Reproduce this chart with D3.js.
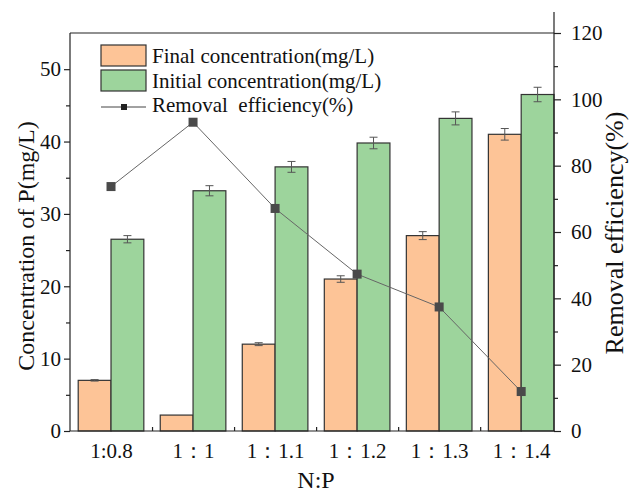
<!DOCTYPE html>
<html>
<head>
<meta charset="utf-8">
<script src="https://cdn.jsdelivr.net/npm/d3@7"></script>
<style>
  body { margin: 0; background: #fff; }
  svg { display: block; }
</style>
</head>
<body>
<div id="chart"></div>
<script>
// data
const ratios = ["1:0.8", "1\uFF1A1", "1\uFF1A1.1", "1\uFF1A1.2", "1\uFF1A1.3", "1\uFF1A1.4"];
const finalConc = [7.0, 2.2, 12.0, 21.0, 27.0, 41.0];
const finalErr = [0.1, 0, 0.2, 0.45, 0.55, 0.8];
const initialConc = [26.5, 33.2, 36.5, 39.8, 43.2, 46.5];
const initialErr = [0.5, 0.7, 0.75, 0.8, 0.9, 1.0];
const removal = [73.7, 93.1, 67.1, 47.3, 37.4, 11.9];
const leftTicks = [0, 10, 20, 30, 40, 50];
const rightTicks = [0, 20, 40, 60, 80, 100, 120];

const W = 634, H = 495;
const m = { top: 33, right: 80, bottom: 64, left: 70 };
const x0 = m.left, x1 = W - m.right, yB = H - m.bottom, yT = m.top;

const orange = "#fdc497", green = "#9dd49c";
const serif = "Liberation Serif";

const svg = d3.select("#chart").append("svg")
  .attr("width", W).attr("height", H);

// categories sit at 1..6
const x = d3.scaleLinear().domain([0.5, 6.4]).range([x0, x1]);
const y = d3.scaleLinear().domain([0, 55]).range([yB, yT]);
const y2 = d3.scaleLinear().domain([0, 120]).range([yB, yT]);
const bw = x(1.4) - x(1);

const idx = d3.range(ratios.length);

// bars
svg.append("g").selectAll("rect.fin")
  .data(idx).enter().append("rect")
  .attr("x", i => x(i + 1) - bw)
  .attr("y", i => y(finalConc[i]))
  .attr("width", bw)
  .attr("height", i => y(0) - y(finalConc[i]))
  .attr("fill", orange)
  .attr("stroke", "#333").attr("stroke-width", 1.2);

svg.append("g").selectAll("rect.ini")
  .data(idx).enter().append("rect")
  .attr("x", i => x(i + 1))
  .attr("y", i => y(initialConc[i]))
  .attr("width", bw)
  .attr("height", i => y(0) - y(initialConc[i]))
  .attr("fill", green)
  .attr("stroke", "#333").attr("stroke-width", 1.2);

// error bars
function errBars(vals, errs, offset) {
  const g = svg.append("g").attr("stroke", "#555").attr("stroke-width", 1);
  idx.forEach(i => {
    if (!errs[i]) return;
    const cx = x(i + 1) + offset;
    const hi = y(vals[i] + errs[i]), lo = y(vals[i] - errs[i]);
    g.append("line").attr("x1", cx).attr("x2", cx).attr("y1", hi).attr("y2", lo);
    g.append("line").attr("x1", cx - 4).attr("x2", cx + 4).attr("y1", hi).attr("y2", hi);
    g.append("line").attr("x1", cx - 4).attr("x2", cx + 4).attr("y1", lo).attr("y2", lo);
  });
}
errBars(finalConc, finalErr, -bw / 2);
errBars(initialConc, initialErr, bw / 2);

// removal line
const line = d3.line().x((d, i) => x(i + 1)).y(d => y2(d));
svg.append("path").datum(removal)
  .attr("d", line)
  .attr("fill", "none").attr("stroke", "#666").attr("stroke-width", 1);
svg.append("g").selectAll("rect.pt")
  .data(removal).enter().append("rect")
  .attr("x", (d, i) => x(i + 1) - 4.5)
  .attr("y", d => y2(d) - 4.5)
  .attr("width", 9).attr("height", 9)
  .attr("fill", "#4a4a4a");

// frame
svg.append("line").attr("x1", x0).attr("x2", x1).attr("y1", yT).attr("y2", yT)
  .attr("stroke", "#222").attr("stroke-width", 1.2);

// left axis
const left = svg.append("g").attr("transform", `translate(${x0},0)`)
  .call(d3.axisLeft(y).tickValues(leftTicks).tickSize(6).tickSizeOuter(0).tickPadding(3));
left.append("g").call(d3.axisLeft(y).tickValues(d3.range(5, 50, 10)).tickSize(4).tickFormat(""))
  .select(".domain").remove();
left.select(".domain").attr("d", `M0,${yB}V${yT}`);

// right axis, line runs above the frame
const right = svg.append("g").attr("transform", `translate(${x1},0)`)
  .call(d3.axisRight(y2).tickValues(rightTicks).tickSize(7).tickSizeOuter(0).tickPadding(10));
right.append("g").call(d3.axisRight(y2).tickValues(d3.range(10, 120, 20)).tickSize(4).tickFormat(""))
  .select(".domain").remove();
right.select(".domain").attr("d", `M0,${yB}V12`);

// bottom axis: labels at categories, small inner ticks between groups
const bottom = svg.append("g").attr("transform", `translate(0,${yB})`)
  .call(d3.axisBottom(x).tickValues(d3.range(1, 7)).tickSize(0).tickPadding(12)
    .tickFormat((d, i) => ratios[i]));
bottom.select(".domain").attr("d", `M${x0},0H${x1}`);
bottom.append("g").call(d3.axisBottom(x).tickValues(d3.range(1.5, 6, 1)).tickSize(-4).tickFormat(""))
  .select(".domain").remove();

svg.selectAll(".tick line, .domain").attr("stroke", "#222").attr("stroke-width", 1.2);
svg.selectAll(".tick text").attr("font-size", 21).attr("fill", "#111");

// axis titles
svg.append("text")
  .attr("transform", `translate(34,246) rotate(-90)`)
  .attr("text-anchor", "middle").attr("font-size", 24)
  .text("Concentration of P(mg/L)");
svg.append("text")
  .attr("transform", `translate(623,233) rotate(-90)`)
  .attr("text-anchor", "middle").attr("font-size", 26)
  .text("Removal efficiency(%)");
svg.append("text")
  .attr("x", 316).attr("y", 488)
  .attr("text-anchor", "middle").attr("font-size", 24)
  .text("N:P");

// legend
const lg = svg.append("g").attr("font-size", 21);
const legItems = [
  { label: "Final concentration(mg/L)", color: orange },
  { label: "Initial concentration(mg/L)", color: green }
];
legItems.forEach((d, i) => {
  lg.append("rect").attr("x", 101).attr("y", 45 + i * 25).attr("width", 45).attr("height", 21)
    .attr("fill", d.color).attr("stroke", "#333").attr("stroke-width", 1.2);
  lg.append("text").attr("x", 152).attr("y", 63 + i * 25).text(d.label);
});
lg.append("line").attr("x1", 101).attr("x2", 146).attr("y1", 107).attr("y2", 107)
  .attr("stroke", "#444").attr("stroke-width", 1);
lg.append("rect").attr("x", 121).attr("y", 104).attr("width", 6).attr("height", 6).attr("fill", "#222");
lg.append("text").attr("x", 152).attr("y", 112).style("white-space", "pre")
  .text("Removal  efficiency(%)");

// one serif face for every text
svg.selectAll("text").style("font-family", serif).attr("fill", "#111");
</script>
</body>
</html>
